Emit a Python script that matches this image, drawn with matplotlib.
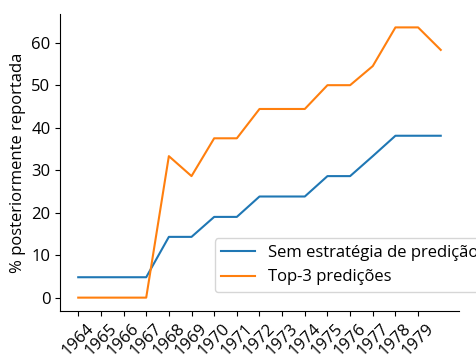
import matplotlib
matplotlib.use("Agg")
import matplotlib.pyplot as plt

plt.rcParams['font.family'] = ['Open Sans', 'DejaVu Sans']

# Positions of each observation along the x axis (one per year)
years = [1964, 1965, 1966, 1967, 1968, 1969, 1970, 1971, 1972,
         1973, 1974, 1975, 1976, 1977, 1978, 1979, 1980]
tick_labels = ['1964', '1965', '1966', '1967', '1968', '1969', '1970', '1971',
               '1972', '1973', '1974', '1975', '1976', '1977', '1978', '1979']

sem_estrategia = [4.8, 4.8, 4.8, 4.8, 14.3, 14.3, 19.0, 19.0, 23.8,
                  23.8, 23.8, 28.6, 28.6, 33.3, 38.1, 38.1, 38.1]
top3 = [0.0, 0.0, 0.0, 0.0, 33.3, 28.6, 37.5, 37.5, 44.4,
        44.4, 44.4, 50.0, 50.0, 54.5, 63.6, 63.6, 58.3]

fig = plt.figure(figsize=(4.77, 3.56), dpi=100)
ax = fig.add_axes([0.126, 0.126, 0.836, 0.835])

ax.plot(years, sem_estrategia, color='#1f77b4', lw=1.5, label='Sem estratégia de predição')
ax.plot(years, top3, color='#ff7f0e', lw=1.5, label='Top-3 predições')

ax.set_xticks(years[:len(tick_labels)])
ax.set_xticklabels(tick_labels, rotation=45, fontsize=12)
ax.tick_params(axis='y', labelsize=12)
ax.set_ylabel('% posteriormente reportada', fontsize=12)

ax.spines['top'].set_visible(False)
ax.spines['right'].set_visible(False)

ax.legend(loc='lower left', bbox_to_anchor=(0.388, 0.064), borderaxespad=0,
          fontsize=12)

fig.savefig('out.png', dpi=100)
